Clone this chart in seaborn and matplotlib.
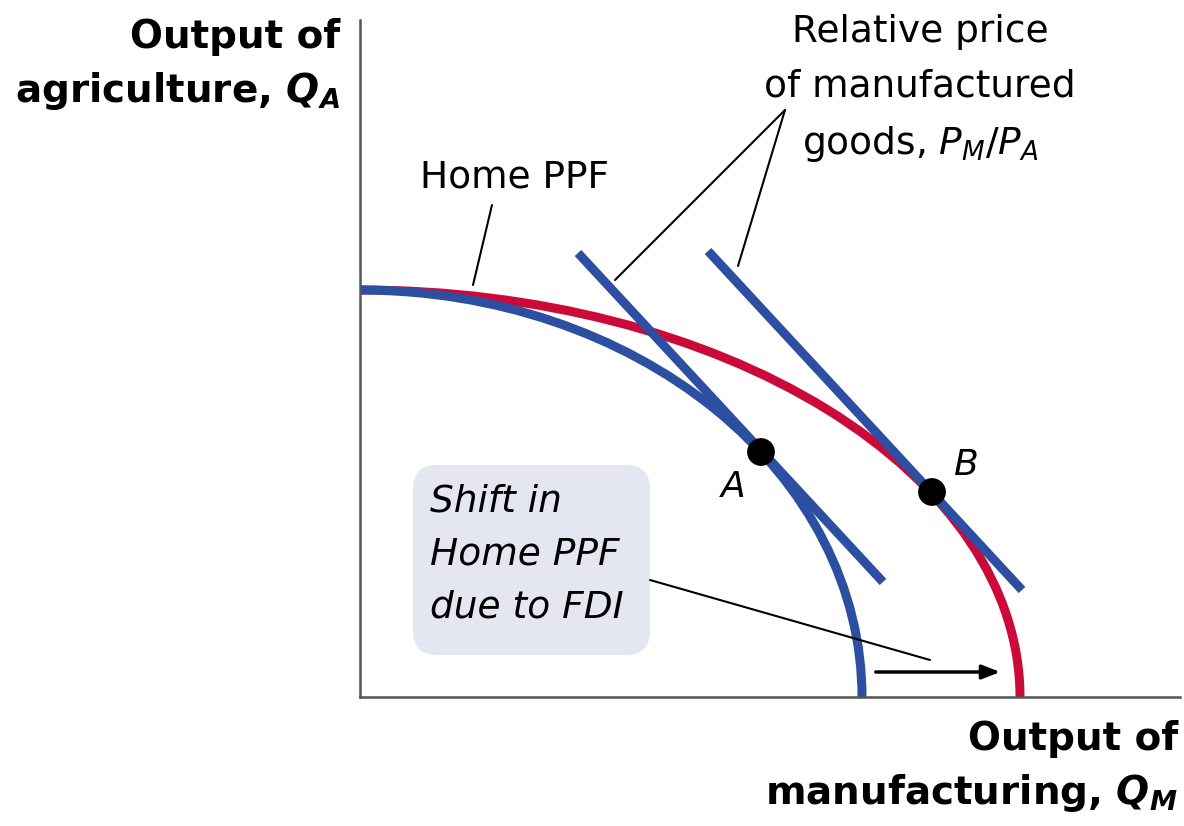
import matplotlib
matplotlib.use("Agg")
import matplotlib.pyplot as plt
import seaborn as sns
import pandas as pd
from matplotlib.patches import Arc, FancyBboxPatch

# PPF curves (quarter ellipses): intercepts on each axis
ppf_names = ["Home PPF", "Home PPF after FDI"]
ppf_max_agri = [407, 407]
ppf_max_manuf = [502, 660]

# relative price lines (end points)
price_x = [[218, 523], [348, 662]]
price_y = [[444, 115], [446, 107]]

# production points
point_names = ["A", "B"]
point_x = [401, 572]
point_y = [245, 205]

BLUE = "#2d4fa1"
RED = "#cc0a3a"

sns.set_theme(style="white")
plt.rcParams["font.family"] = ["DejaVu Sans"]
plt.rcParams["mathtext.fontset"] = "dejavusans"
plt.rcParams["text.color"] = "black"

fig = plt.figure(figsize=(11.84, 8.26), dpi=100)
ax = fig.add_axes([360 / 1184, 129 / 826, 820 / 1184, 677 / 826])

# red (after FDI) first, blue on top
for i, col in [(1, RED), (0, BLUE)]:
    arc = Arc((0, 0), 2 * ppf_max_manuf[i], 2 * ppf_max_agri[i],
              theta1=0, theta2=90, color=col, linewidth=6.5, zorder=2)
    ax.add_patch(arc)

for xs, ys in zip(price_x, price_y):
    sns.lineplot(x=xs, y=ys, ax=ax, color=BLUE, linewidth=6.5,
                 solid_capstyle="butt", zorder=3)

pts = pd.DataFrame({"name": point_names, "x": point_x, "y": point_y})
sns.scatterplot(data=pts, x="x", y="y", ax=ax, color="black", s=400,
                edgecolor="none", zorder=5)

ax.text(373, 210, "A", fontsize=26, style="italic", ha="center", va="center")
ax.text(605, 232, "B", fontsize=26, style="italic", ha="center", va="center")

# Home PPF label
ax.text(155, 519, "Home PPF", fontsize=27, ha="center", va="center")
ax.plot([113, 132], [412, 492], color="black", linewidth=1.5, clip_on=False)

# relative price label
ax.text(560, 683, "Relative price\nof manufactured\ngoods, $P_M/P_A$",
        fontsize=27, ha="center", va="top", linespacing=1.66)
ax.plot([425, 255], [587, 417], color="black", linewidth=1.5, clip_on=False)
ax.plot([425, 378], [587, 431], color="black", linewidth=1.5, clip_on=False)

# shift box
box = FancyBboxPatch((53, 42), 237, 190,
                     boxstyle="round,pad=0,rounding_size=24",
                     facecolor="#e4e6f2", edgecolor="none", zorder=1)
ax.add_patch(box)
ax.text(70, 214, "Shift in\nHome PPF\ndue to FDI", fontsize=27,
        style="italic", ha="left", va="top", linespacing=1.62, zorder=2)
ax.plot([290, 570], [117, 37], color="black", linewidth=1.5)
ax.annotate("", xy=(643, 25), xytext=(513, 25),
            arrowprops=dict(arrowstyle="-|>,head_length=0.9,head_width=0.35",
                            color="black", linewidth=2.5))

ax.set_xlim(0, 820)
ax.set_ylim(0, 677)
ax.set_xticks([])
ax.set_yticks([])
ax.set_xlabel("")
ax.set_ylabel("")
sns.despine(ax=ax)
for side in ["left", "bottom"]:
    ax.spines[side].set_color("#555555")
    ax.spines[side].set_linewidth(1.8)

fig.text(340 / 1184, 1 - 18 / 826,
         "Output of\nagriculture, $\\mathbfit{Q}_\\mathbfit{A}$",
         fontsize=28, fontweight="bold", ha="right", va="top", linespacing=1.45)
fig.text(1178 / 1184, 1 - 720 / 826,
         "Output of\nmanufacturing, $\\mathbfit{Q}_\\mathbfit{M}$",
         fontsize=28, fontweight="bold", ha="right", va="top", linespacing=1.45)

plt.savefig("out.png", dpi=100)
plt.close()
